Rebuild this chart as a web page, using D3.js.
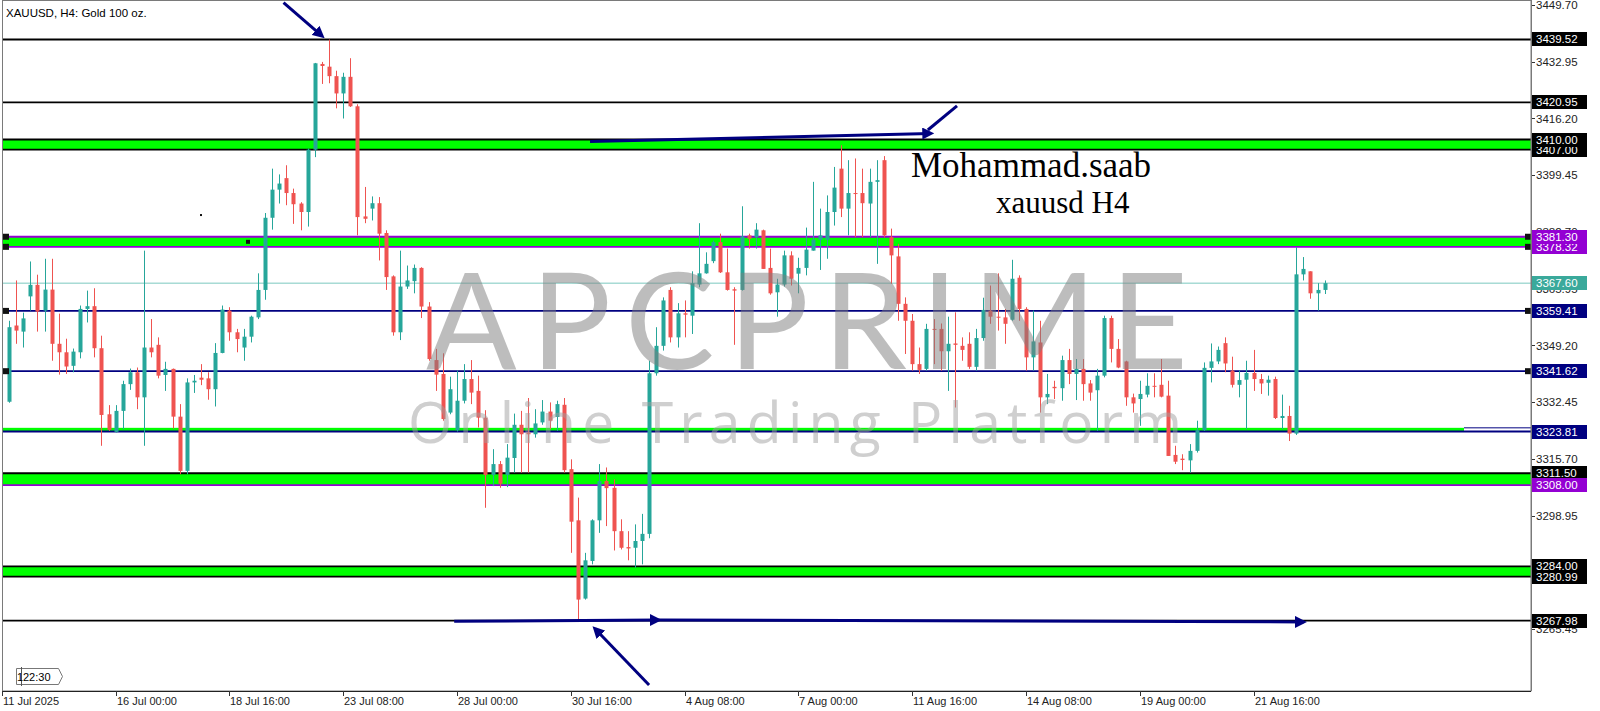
<!DOCTYPE html>
<html>
<head>
<meta charset="utf-8">
<script src="https://cdn.jsdelivr.net/npm/d3@7/dist/d3.min.js"></script>
<style>
body { margin: 0; background: #fff; }
svg { display: block; font-family: 'Liberation Sans', Arial, sans-serif; }
</style>
</head>
<body>
<div class="d3-container"></div>
<script>
const w = 1600
const h = 711
const right = 1531
const bottom = 691

// XAUUSD H4 bars, 11 Jul 12:00 -> 25 Aug
const opens = [3332.6,3355.1,3353.3,3363.7,3367.1,3359.5,3365.7,3349.7,3347.2,3343.2,
3347.2,3360.0,3360.8,3348.4,3328.9,3323.7,3329.9,3337.8,3341.3,3333.9,
3348.6,3349.4,3340.5,3342.3,3328.2,3312.2,3338.3,3339.7,3339.5,3336.3,
3347.0,3359.5,3353.1,3348.6,3351.8,3357.5,3365.6,3386.9,3395.2,3398.6,
3394.2,3391.1,3388.6,3407.0,3432.3,3431.5,3428.7,3423.6,3428.5,3419.8,
3387.3,3389.6,3391.2,3382.4,3369.6,3353.1,3366.6,3368.2,3372.1,3360.7,
3344.9,3340.8,3329.4,3324.2,3332.9,3339.3,3335.8,3327.9,3311.0,3314.2,
3311.0,3316.0,3325.8,3323.5,3323.0,3326.5,3329.7,3328.1,3331.7,3312.7,
3297.6,3274.5,3285.6,3297.6,3309.2,3307.2,3294.4,3289.7,3289.5,3291.5,
3293.6,3341.0,3349.1,3365.6,3351.6,3358.7,3358.0,3367.2,3370.5,3374.1,
3379.7,3370.8,3365.8,3365.6,3381.7,3381.2,3383.2,3372.1,3364.9,3367.2,
3375.8,3370.4,3372.1,3377.2,3380.4,3380.4,3388.6,3401.4,3389.6,3394.2,
3394.2,3391.1,3397.5,3403.9,3381.2,3375.5,3361.5,3356.5,3343.7,3342.3,
3354.1,3354.1,3347.5,3349.8,3349.1,3349.7,3342.9,3351.4,3359.5,3357.7,
3357.5,3356.8,3369.2,3360.0,3345.7,3350.1,3333.9,3337.0,3336.6,3344.9,
3340.8,3342.3,3338.0,3336.0,3340.3,3357.3,3348.2,3344.5,3333.9,3333.4,
3334.7,3337.3,3337.6,3334.4,3316.9,3315.8,3315.3,3318.1,3324.2,3342.6,
3344.5,3349.9,3341.8,3337.6,3339.1,3341.1,3339.3,3338.2,3339.3,3327.8,
3328.4,3323.2,3370.2,3371.1,3364.6,3365.6]
const highs = [3356.5,3368.4,3358.9,3374.0,3370.1,3374.8,3374.8,3358.6,3351.2,3348.3,
3361.0,3365.4,3366.1,3352.1,3331.6,3331.6,3338.8,3342.4,3342.7,3377.2,
3357.0,3351.6,3344.4,3342.4,3331.9,3339.5,3340.5,3343.7,3341.3,3349.9,
3361.0,3360.5,3354.1,3354.1,3358.0,3370.5,3388.3,3401.4,3399.7,3402.4,
3395.5,3391.5,3407.3,3432.6,3432.9,3439.5,3430.3,3429.7,3434.0,3420.4,
3396.0,3393.2,3393.0,3383.2,3369.9,3377.2,3372.8,3373.1,3372.3,3362.0,
3348.2,3346.9,3340.0,3341.8,3343.7,3344.9,3340.3,3330.1,3318.6,3315.1,
3320.1,3329.1,3329.9,3333.7,3330.4,3333.1,3332.4,3332.9,3333.7,3315.6,
3304.3,3288.0,3297.9,3314.2,3313.2,3309.7,3297.9,3294.4,3296.4,3299.5,
3344.7,3354.6,3363.4,3366.4,3361.7,3362.5,3371.1,3385.3,3376.7,3380.2,
3382.2,3377.8,3366.4,3390.3,3382.2,3385.3,3383.4,3377.8,3368.9,3377.2,
3377.0,3375.1,3384.0,3397.5,3389.6,3393.5,3401.9,3408.3,3403.9,3404.4,
3401.4,3401.4,3403.9,3405.1,3383.7,3379.2,3363.4,3358.5,3348.6,3355.6,
3357.0,3355.7,3357.7,3359.0,3351.6,3353.1,3354.1,3363.3,3366.9,3370.5,
3360.0,3374.5,3369.9,3360.5,3359.5,3356.5,3340.8,3338.8,3346.2,3348.2,
3345.2,3345.2,3339.0,3342.3,3358.0,3358.0,3351.1,3344.7,3335.0,3338.8,
3341.0,3341.0,3345.2,3338.8,3319.6,3317.1,3320.1,3327.0,3344.2,3349.8,
3348.9,3351.6,3345.9,3341.8,3344.7,3347.9,3340.8,3340.3,3340.0,3334.7,
3331.4,3378.2,3375.3,3371.1,3367.6,3368.4]
const lows = [3332.3,3349.7,3348.6,3359.5,3353.3,3353.3,3344.7,3340.6,3340.8,3341.3,
3345.4,3356.0,3345.7,3319.6,3324.0,3323.5,3324.5,3336.1,3330.4,3319.6,
3345.7,3339.5,3335.8,3324.7,3311.2,3311.2,3335.2,3337.5,3333.2,3331.2,
3346.9,3350.6,3347.2,3344.7,3350.1,3357.0,3362.7,3383.4,3391.1,3390.6,
3385.1,3383.2,3384.3,3404.8,3426.4,3426.6,3419.2,3416.2,3419.6,3381.7,
3385.3,3386.1,3374.3,3365.6,3352.1,3350.8,3365.9,3364.6,3357.3,3344.7,
3335.8,3327.0,3328.9,3323.8,3332.1,3331.9,3325.0,3301.3,3307.7,3307.2,
3307.4,3311.7,3311.7,3311.7,3322.0,3325.8,3324.5,3324.0,3311.7,3288.0,
3268.0,3274.2,3284.6,3293.9,3295.9,3288.7,3289.0,3285.8,3283.6,3284.6,
3292.3,3340.3,3347.7,3350.1,3348.6,3351.6,3352.6,3366.4,3370.4,3373.5,
3370.6,3365.4,3349.4,3365.4,3377.8,3377.8,3371.8,3364.2,3357.7,3366.6,
3366.9,3364.6,3369.9,3377.2,3371.5,3374.8,3384.6,3387.1,3381.7,3381.2,
3381.2,3381.2,3373.3,3381.1,3367.4,3356.5,3346.7,3341.8,3340.8,3341.8,
3343.7,3341.8,3335.8,3330.9,3344.7,3342.3,3341.8,3350.6,3355.6,3353.6,
3349.7,3356.5,3356.5,3341.8,3341.8,3329.4,3331.9,3333.4,3332.9,3337.8,
3333.1,3332.9,3332.9,3324.0,3339.8,3344.2,3342.5,3331.4,3329.4,3325.5,
3333.9,3333.9,3333.9,3316.6,3314.2,3312.4,3311.7,3317.6,3324.0,3338.3,
3343.7,3341.3,3336.8,3333.9,3324.5,3335.8,3334.9,3334.4,3327.5,3324.5,
3321.0,3322.8,3368.4,3363.0,3359.5,3364.4]
const closes = [3354.6,3353.6,3357.2,3367.1,3359.2,3365.7,3349.7,3347.2,3343.0,3347.4,
3360.0,3360.8,3348.4,3328.7,3324.3,3329.9,3337.8,3341.3,3333.9,3348.6,
3347.2,3340.3,3342.3,3328.2,3312.2,3338.3,3338.8,3339.1,3336.3,3347.0,
3359.8,3353.1,3351.1,3351.8,3357.7,3365.6,3386.9,3395.2,3397.0,3394.2,
3390.9,3388.6,3407.0,3432.5,3431.7,3428.7,3423.6,3428.5,3419.8,3387.1,
3386.6,3391.2,3382.2,3369.4,3353.1,3366.6,3368.4,3372.1,3360.7,3345.2,
3340.6,3327.5,3336.3,3332.9,3339.3,3335.3,3327.9,3311.0,3314.2,3308.4,
3316.1,3325.8,3323.0,3323.0,3326.2,3329.7,3327.0,3331.9,3312.4,3297.2,
3274.2,3285.8,3297.6,3309.2,3307.1,3294.4,3289.5,3289.3,3291.5,3293.6,
3341.0,3349.1,3362.5,3351.6,3358.7,3358.3,3367.6,3370.5,3373.3,3379.7,
3370.8,3365.6,3365.4,3381.4,3380.7,3383.4,3371.8,3364.6,3367.2,3375.8,
3368.9,3372.1,3377.5,3380.4,3381.7,3388.6,3395.8,3389.6,3394.2,3394.0,
3391.2,3397.5,3398.0,3381.7,3375.8,3361.5,3356.5,3343.7,3342.0,3354.1,
3354.0,3347.5,3349.7,3349.4,3347.9,3342.9,3351.4,3359.7,3357.7,3357.4,
3355.6,3368.9,3360.0,3345.7,3350.4,3333.9,3334.9,3336.6,3344.9,3340.8,
3342.3,3337.8,3335.3,3340.3,3357.3,3348.2,3342.7,3333.9,3332.1,3334.9,
3337.3,3337.1,3334.1,3316.6,3314.9,3315.4,3318.1,3324.2,3342.6,3344.5,
3347.9,3343.9,3337.6,3339.0,3341.1,3339.3,3338.0,3339.1,3327.8,3328.4,
3323.2,3370.2,3371.8,3364.6,3365.6,3367.6]

// time axis (bar index of each label)
const timeTicks = [15, 31, 47, 63, 79, 95, 111, 127, 143, 159, 175]
const timeLabels = ['16 Jul 00:00', '18 Jul 16:00', '23 Jul 08:00', '28 Jul 00:00', '30 Jul 16:00',
    '4 Aug 08:00', '7 Aug 00:00', '11 Aug 16:00', '14 Aug 08:00', '19 Aug 00:00', '21 Aug 16:00']
const priceTicks = [3449.70, 3432.95, 3416.20, 3399.45, 3382.70, 3365.95, 3349.20,
    3332.45, 3315.70, 3298.95, 3282.20, 3265.45]

// horizontal levels (drawn in this order)
const levelPrices = [3439.52, 3420.95, 3407.00, 3410.00, 3378.32, 3381.30, 3359.41,
    3341.62, 3323.81, 3311.50, 3308.00, 3284.00, 3280.99, 3267.98]
const levelKinds = ['black', 'black', 'black', 'black', 'purple', 'purple', 'navy',
    'navy', 'navy', 'black', 'purple', 'black', 'black', 'black']
const zoneTops = [3410.00, 3381.30, 3324.90, 3311.50, 3284.00]
const zoneBottoms = [3407.00, 3378.32, 3323.81, 3308.00, 3280.99]
const markedLevels = [3381.30, 3378.32, 3359.41, 3341.62]
const lastPrice = 3367.60

// arrows drawn on the chart: [bar, price] -> [bar, price]
const arrowFrom = [[38.6, 3450.4], [81.7, 3409.4], [62.6, 3267.8], [91.3, 3268.2], [90.0, 3249.0]]
const arrowTo = [[44.0, 3440.6], [129.6, 3411.8], [91.3, 3268.2], [182.0, 3267.6], [82.4, 3265.6]]
const lineFrom = [[133.3, 3419.9]]
const lineTo = [[129.2, 3412.8]]

const colors = { black: '#000000', purple: '#9400d3', navy: '#000080' }
const up = '#26a69a'
const down = '#ef5350'

const svg = d3.select('.d3-container')
    .append('svg')
    .attr('width', w)
    .attr('height', h)

const x = d3.scaleLinear().domain([0, 185]).range([9, 1324.7])
const y = d3.scaleLinear().domain([3449.70, 3265.45]).range([5, 629.25])

svg.append('defs').append('clipPath').attr('id', 'plot')
    .append('rect').attr('x', 2).attr('y', 0).attr('width', right - 2).attr('height', bottom)

svg.select('defs').append('marker')
    .attr('id', 'head')
    .attr('viewBox', '0 0 10 10')
    .attr('refX', 7).attr('refY', 5)
    .attr('markerWidth', 4).attr('markerHeight', 4)
    .attr('orient', 'auto')
    .append('path').attr('d', 'M0,0 L10,5 L0,10 z').attr('fill', '#000080')

const plot = svg.append('g').attr('clip-path', 'url(#plot)')

// green zones
plot.selectAll('rect.zone')
    .data(zoneTops)
    .enter()
    .append('rect')
    .attr('class', 'zone')
    .attr('x', 2)
    .attr('width', (d, i) => (i === 2 ? 1464 : right) - 2)
    .attr('y', d => y(d))
    .attr('height', (d, i) => y(zoneBottoms[i]) - y(d))
    .attr('fill', '#00ff00')

plot.append('line')
    .attr('x1', 2).attr('x2', right)
    .attr('y1', y(lastPrice)).attr('y2', y(lastPrice))
    .attr('stroke', '#7cc8bf').attr('stroke-width', 1)

plot.append('line')
    .attr('x1', 1464).attr('x2', right)
    .attr('y1', y(3324.90)).attr('y2', y(3324.90))
    .attr('stroke', '#000080').attr('stroke-width', 1)

plot.selectAll('line.level')
    .data(levelPrices)
    .enter()
    .append('line')
    .attr('class', 'level')
    .attr('x1', 2).attr('x2', right)
    .attr('y1', d => y(d)).attr('y2', d => y(d))
    .attr('stroke', (d, i) => colors[levelKinds[i]])
    .attr('stroke-width', 1.8)

// candles
const idx = d3.range(opens.length)
const candle = plot.selectAll('g.c')
    .data(idx)
    .enter()
    .append('g')
    .attr('class', 'c')
    .attr('fill', i => closes[i] >= opens[i] ? up : down)
    .attr('stroke', i => closes[i] >= opens[i] ? up : down)

candle.append('line')
    .attr('x1', i => Math.round(x(i)) + 0.5)
    .attr('x2', i => Math.round(x(i)) + 0.5)
    .attr('y1', i => y(Math.max(highs[i], opens[i], closes[i])))
    .attr('y2', i => y(Math.min(lows[i], opens[i], closes[i])))
    .attr('stroke-width', 1)

candle.append('rect')
    .attr('x', i => Math.round(x(i)) - 1.5)
    .attr('width', 4)
    .attr('y', i => y(Math.max(opens[i], closes[i])))
    .attr('height', i => Math.max(1, Math.abs(y(opens[i]) - y(closes[i]))))
    .attr('stroke', 'none')

// small marks on the levels
plot.selectAll('rect.mark')
    .data(markedLevels.concat(markedLevels))
    .enter()
    .append('rect')
    .attr('x', (d, i) => i < markedLevels.length ? 3 : right - 6)
    .attr('y', d => y(d) - 3)
    .attr('width', 6).attr('height', 6)
    .attr('fill', '#111')
plot.append('rect').attr('x', 246).attr('y', y(3379.8) - 2).attr('width', 4).attr('height', 4).attr('fill', '#111')
plot.append('rect').attr('x', 200).attr('y', y(3388.0)).attr('width', 2).attr('height', 2).attr('fill', '#111')

// drawn arrows
const pt = p => [x(p[0]), y(p[1])]
plot.selectAll('line.arrow')
    .data(arrowFrom)
    .enter()
    .append('line')
    .attr('x1', d => pt(d)[0]).attr('y1', d => pt(d)[1])
    .attr('x2', (d, i) => pt(arrowTo[i])[0]).attr('y2', (d, i) => pt(arrowTo[i])[1])
    .attr('stroke', '#000080').attr('stroke-width', 3)
    .attr('marker-end', 'url(#head)')
plot.selectAll('line.plain')
    .data(lineFrom)
    .enter()
    .append('line')
    .attr('x1', d => pt(d)[0]).attr('y1', d => pt(d)[1])
    .attr('x2', (d, i) => pt(lineTo[i])[0]).attr('y2', (d, i) => pt(lineTo[i])[1])
    .attr('stroke', '#000080').attr('stroke-width', 3)

// author text
svg.append('text')
    .attr('x', 911).attr('y', 177)
    .style('font-family', "'Liberation Serif', 'Times New Roman', serif")
    .style('font-size', '35px')
    .text('Mohammad.saab')
svg.append('text')
    .attr('x', 996).attr('y', 213)
    .style('font-family', "'Liberation Serif', 'Times New Roman', serif")
    .style('font-size', '31px')
    .text('xauusd H4')

// watermark (semi-transparent, over the candles)
const wm = svg.append('g').attr('pointer-events', 'none')
wm.append('text')
    .attr('x', 426).attr('y', 369)
    .attr('textLength', 762).attr('lengthAdjust', 'spacing')
    .style('font-family', 'Lato, sans-serif')
    .style('font-size', '134px')
    .style('font-weight', 400)
    .attr('fill', '#7e7e7e').attr('opacity', 0.5)
    .text('APCPRIME')
wm.append('text')
    .attr('x', 408).attr('y', 443)
    .attr('textLength', 774).attr('lengthAdjust', 'spacing')
    .style('font-family', "'Open Sans', sans-serif")
    .style('font-size', '57px')
    .style('font-weight', 400)
    .attr('fill', '#a0a0a0').attr('opacity', 0.5)
    .text('Online Trading Platform')

// frame
svg.append('rect')
    .attr('x', 2.5).attr('y', 0.5)
    .attr('width', right - 2.5).attr('height', bottom - 0.5)
    .attr('fill', 'none').attr('stroke', '#7a7a7a')
svg.append('line').attr('x1', 2).attr('x2', right).attr('y1', bottom + 0.5).attr('y2', bottom + 0.5).attr('stroke', '#222')

svg.append('text')
    .attr('x', 6).attr('y', 17)
    .style('font-size', '11.5px')
    .text('XAUUSD, H4:  Gold 100 oz.')

// countdown tag
svg.append('path')
    .attr('d', 'M16.5,668.5 H58.5 L62.5,676.5 L58.5,684.5 H16.5 Z')
    .attr('fill', '#fff').attr('stroke', '#777')
svg.append('line').attr('x1', 21.5).attr('x2', 21.5).attr('y1', 667).attr('y2', 686).attr('stroke', '#555')
svg.append('text').attr('x', 17).attr('y', 681).style('font-size', '11px').text('1')
svg.append('text').attr('x', 23).attr('y', 681).style('font-size', '11px').text('22:30')

// price axis
const pAxis = svg.append('g')
pAxis.selectAll('line')
    .data(priceTicks)
    .enter()
    .append('line')
    .attr('x1', right).attr('x2', right + 4)
    .attr('y1', d => Math.round(y(d)) + 0.5).attr('y2', d => Math.round(y(d)) + 0.5)
    .attr('stroke', '#333')
pAxis.selectAll('text')
    .data(priceTicks)
    .enter()
    .append('text')
    .attr('x', right + 5)
    .attr('y', d => y(d) + 4)
    .style('font-size', '11.5px')
    .attr('fill', '#222')
    .text(d => d.toFixed(2))

// level labels
const tagData = levelPrices.slice(0, 6).concat([lastPrice], levelPrices.slice(6))
const tagKinds = levelKinds.slice(0, 6).concat(['last'], levelKinds.slice(6))
const tags = svg.selectAll('g.tag')
    .data(tagData)
    .enter()
    .append('g')
    .attr('transform', d => `translate(${right + 1},${Math.round(y(d)) - 7})`)
tags.append('rect')
    .attr('width', 55).attr('height', 14)
    .attr('fill', (d, i) => tagKinds[i] === 'last' ? '#3aa99b' : colors[tagKinds[i]])
tags.append('text')
    .attr('x', 4).attr('y', 11)
    .style('font-size', '11.5px')
    .attr('fill', '#fff')
    .text(d => d.toFixed(2))

svg.append('line')
    .attr('x1', right + 0.5).attr('x2', right + 0.5)
    .attr('y1', 0).attr('y2', bottom)
    .attr('stroke', '#7a7a7a')

// time axis
const tAxis = svg.append('g')
tAxis.selectAll('line')
    .data(timeTicks)
    .enter()
    .append('line')
    .attr('x1', d => Math.round(x(d)) + 0.5).attr('x2', d => Math.round(x(d)) + 0.5)
    .attr('y1', bottom).attr('y2', bottom + 5)
    .attr('stroke', '#333')
tAxis.selectAll('text')
    .data(timeTicks)
    .enter()
    .append('text')
    .attr('x', d => Math.round(x(d)) + 1)
    .attr('y', 705)
    .style('font-size', '11px')
    .attr('fill', '#222')
    .text((d, i) => timeLabels[i])
svg.append('line').attr('x1', 2.5).attr('x2', 2.5).attr('y1', bottom).attr('y2', bottom + 5).attr('stroke', '#333')
svg.append('text').attr('x', 3).attr('y', 705).style('font-size', '11px').attr('fill', '#222').text('11 Jul 2025')
</script>
</body>
</html>
